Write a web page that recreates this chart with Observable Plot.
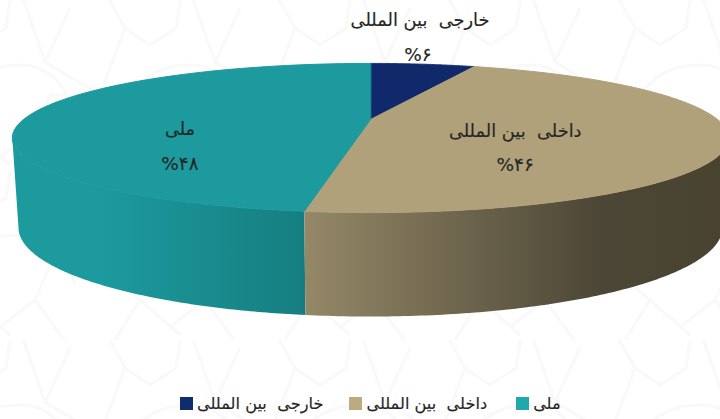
<!DOCTYPE html>
<html lang="fa">
<head>
<meta charset="utf-8">
<script src="https://cdn.jsdelivr.net/npm/d3@7"></script>
<script src="https://cdn.jsdelivr.net/npm/@observablehq/plot@0.6"></script>
<style>
html,body{margin:0;padding:0;background:#fff}
#page{position:relative;width:720px;height:419px;overflow:hidden;font-family:"DejaVu Sans",sans-serif;}
#legend{display:flex;align-items:center;box-sizing:border-box;height:34px;padding-top:4px;padding-left:180px;gap:26px;font-size:16.2px;color:#262626;line-height:1;-webkit-text-stroke:0.15px #262626}
#legend span.i{display:inline-flex;align-items:center;gap:4px}
#legend span.i:last-child{margin-left:3px}
#legend i{display:inline-block;width:13px;height:13px}
svg{display:block;background:transparent}
</style>
</head>
<body>
<div id="page"></div>
<script>
const categories = ["خارجی  بین المللی", "داخلی  بین المللی", "ملی"];
const shares = [6, 46.3, 47.7];
const valueLabels = ["%۶", "%۴۶", "%۴۸"];
const topColors = ["#10296a", "#b0a17b", "#1c9a9e"];
const legendColors = ["#102b6e", "#bcab7f", "#1fa9ad"];

const W = 720, H = 385;
const k = 0.248;
const top_ = {cx: 370, cy: 119, a: 347, b: 70};
const bot_ = {cx: 370, cy: 205, a: 341, b: 83.5};
const deg = Math.PI / 180;
function project(e, angle, r = 1) {
  const X = Math.sin(angle * deg) * r, Y = -Math.cos(angle * deg) * r, w = 1 - k * Y;
  return {x: e.cx + e.a * X / w, y: e.cy + e.b * Y / w};
}
function arc(e, from, to, n = 120) {
  return d3.range(n + 1).map(i => project(e, from + (to - from) * i / n));
}
// slice boundaries in degrees, clockwise from 12 o'clock
const cum = d3.cumsum(shares);
const bounds = [0, ...Array.from(cum, c => c / d3.sum(shares) * 360)];
const rightExtreme = Math.acos(-k) / deg;
const leftExtreme = 360 - rightExtreme;

const sideTan = [...arc(top_, rightExtreme, bounds[2]), ...arc(bot_, bounds[2], rightExtreme)];
const sideTeal = [...arc(top_, bounds[2], leftExtreme), ...arc(bot_, leftExtreme, bounds[2])];
const faces = categories.map((c, i) => [{x: top_.cx, y: top_.cy}, ...arc(top_, bounds[i], bounds[i + 1])]);

const labelRadius = [1.68, 0.42, 0.55];
const nameOffset = [[-28, -17], [0, 4], [-2, 13]];
const valueOffset = [[-30, 18], [0, 38], [-2, 47]];
const labels = categories.map((name, i) => {
  const p = project(top_, (bounds[i] + bounds[i + 1]) / 2, labelRadius[i]);
  return {name, value: valueLabels[i], x: p.x, y: p.y};
});

const defs = () => {
  const d = d3.create("svg:defs");
  const grad = (id, stops) => {
    const g = d.append("linearGradient").attr("id", id).attr("x1", 0).attr("x2", 1).attr("y1", 0).attr("y2", 0);
    stops.forEach(([o, c]) => g.append("stop").attr("offset", o).attr("stop-color", c));
  };
  grad("tealSide", [[0, "#1c9a9e"], [0.3, "#1c9a9e"], [1, "#167e80"]]);
  grad("tanSide", [[0, "#948867"], [0.35, "#6f674e"], [0.7, "#4c4636"], [1, "#48422f"]]);
  return d.node();
};

const textOpts = {fontFamily: "DejaVu Sans, sans-serif", fill: "#262626", stroke: "#262626", strokeWidth: 0.15, textAnchor: "middle", lineAnchor: "middle"};

const chart = Plot.plot({
  width: W, height: H, margin: 0,
  x: {domain: [0, W], range: [0, W], axis: null},
  y: {domain: [0, H], range: [0, H], axis: null},
  style: {background: "transparent"},
  marks: [
    defs,
    Plot.line(sideTeal, {x: "x", y: "y", fill: "url(#tealSide)", stroke: "none", curve: "linear-closed"}),
    Plot.line(sideTan, {x: "x", y: "y", fill: "url(#tanSide)", stroke: "none", curve: "linear-closed"}),
    ...faces.map((f, i) => Plot.line(f, {x: "x", y: "y", fill: topColors[i], stroke: topColors[i], strokeWidth: 1, strokeOpacity: 1, curve: "linear-closed"})),
    ...labels.map((l, i) => Plot.text([l], {x: "x", y: "y", text: "name", dx: nameOffset[i][0], dy: nameOffset[i][1], fontSize: 17.8, ...textOpts})),
    ...labels.map((l, i) => Plot.text([l], {x: "x", y: "y", text: "value", dx: valueOffset[i][0], dy: valueOffset[i][1], fontSize: 18.5, ...textOpts}))
  ]
});

const bands = `<path d='M120 120Q135 65 190 65Q230 65 245 115'/><path d='M105 -8L125 28L150 45L176 28L182 -12'/><path d='M50 95L100 95L140 130L110 178'/><path d='M50 95L35 130L70 178'/><path d='M20 -10L45 62L70 8'/><path d='M45 62L100 95L125 28'/><path d='M35 130L-10 165'/><path d='M140 130L180 165'/>`;
const tile = `<svg xmlns='http://www.w3.org/2000/svg' width='170' height='170'><g fill='none' stroke='#f9f9f9' stroke-width='3' stroke-linejoin='round'>${bands}<g transform='translate(-170 0)'>${bands}</g></g></svg>`;
const page = document.getElementById("page");
page.style.backgroundImage = `url("data:image/svg+xml,${encodeURIComponent(tile)}")`;
page.appendChild(chart);

const legend = document.createElement("div");
legend.id = "legend";
[0, 1, 2].forEach(i => {
  const s = document.createElement("span"); s.className = "i";
  const sw = document.createElement("i"); sw.style.background = legendColors[i];
  const t = document.createElement("span"); t.textContent = categories[i];
  t.style.whiteSpace = "pre";
  s.append(sw, t); legend.append(s);
});
page.appendChild(legend);
</script>
</body>
</html>
